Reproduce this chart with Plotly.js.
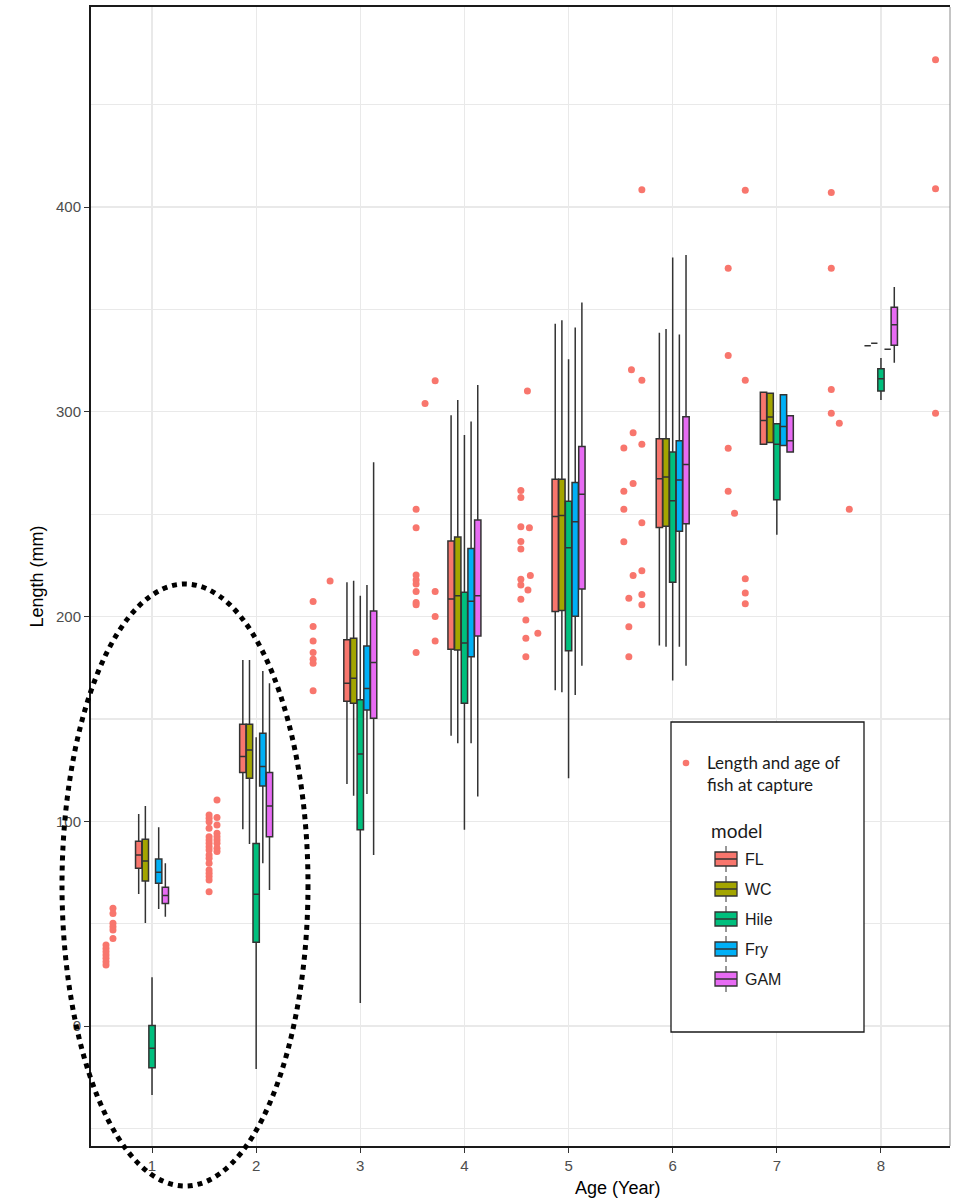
<!DOCTYPE html>
<html>
<head>
<meta charset="utf-8">
<script src="https://cdn.plot.ly/plotly-3.0.1.min.js"></script>
<style>html,body{margin:0;padding:0;background:#fff;}#chart{width:956px;height:1199px;}</style>
</head>
<body>
<div id="chart"></div>
<script>
// ---------- data ----------
const ages = [1, 2, 3, 4, 5, 6, 7, 8];
const tickLabels = ['1', '2', '3', '4', '5', '6', '7', '8'];
const models = ['FL', 'WC', 'Hile', 'Fry', 'GAM'];
const modelColors = ['#F8766D', '#A3A500', '#00BF7D', '#00B0F6', '#E76BF3'];

const flQ1  = [77.0, 123.8, 158.6, 184.0, 202.5, 243.5, 284.2, 332.3];
const flMed = [83.5, 131.6, 167.4, 208.6, 248.8, 267.3, 295.7, 332.3];
const flQ3  = [90.2, 147.4, 188.6, 236.9, 267.1, 286.8, 309.6, 332.3];
const flLo  = [64.5, 96.1, 118.2, 141.8, 164.0, 185.9, 284.2, 332.3];
const flHi  = [103.6, 178.8, 216.8, 298.3, 343.0, 338.6, 309.6, 332.3];

const wcQ1  = [70.8, 121.0, 157.6, 183.7, 203.0, 244.1, 285.0, 333.5];
const wcMed = [80.6, 134.8, 169.9, 210.1, 249.3, 268.1, 297.4, 333.5];
const wcQ3  = [91.2, 147.4, 189.4, 238.9, 267.1, 286.8, 309.1, 333.5];
const wcLo  = [50.3, 88.9, 112.5, 138.1, 163.0, 185.2, 285.0, 333.5];
const wcHi  = [107.5, 178.8, 217.5, 305.8, 344.7, 340.4, 309.1, 333.5];

const hileQ1  = [-20.4, 40.9, 95.8, 157.6, 183.3, 216.7, 257.0, 310.2];
const hileMed = [-10.9, 64.3, 132.9, 187.1, 233.6, 256.6, 284.2, 316.1];
const hileQ3  = [0.2, 89.2, 159.3, 211.9, 256.3, 280.4, 294.1, 321.0];
const hileLo  = [-33.7, -21.0, 11.2, 95.8, 121.0, 168.7, 239.9, 305.8];
const hileHi  = [23.8, 141.0, 210.1, 288.7, 325.7, 375.4, 294.1, 326.3];

const fryQ1  = [69.7, 117.2, 154.4, 180.4, 200.1, 241.6, 283.5, 330.6];
const fryMed = [75.1, 126.7, 164.8, 207.5, 246.3, 266.7, 292.8, 330.6];
const fryQ3  = [81.6, 143.0, 185.6, 233.2, 265.5, 285.9, 308.3, 330.6];
const fryLo  = [57.2, 79.5, 113.3, 138.1, 161.7, 185.2, 283.5, 330.6];
const fryHi  = [97.1, 173.4, 215.4, 295.2, 341.2, 337.8, 308.3, 330.6];

const gamQ1  = [59.9, 92.5, 150.3, 190.5, 213.5, 245.3, 280.3, 332.5];
const gamMed = [63.7, 107.5, 177.5, 210.1, 259.7, 274.3, 285.8, 342.5];
const gamQ3  = [67.8, 123.8, 202.7, 247.2, 283.0, 297.6, 298.1, 351.1];
const gamLo  = [53.4, 66.4, 83.5, 112.1, 176.0, 176.0, 280.3, 324.0];
const gamHi  = [79.5, 167.4, 275.4, 313.1, 353.4, 376.6, 298.1, 360.9];

// observed fish: age position (jittered, as plotted) and length (mm)
const fishAge = [
  0.558,0.558,0.558,0.558,0.558,0.558,0.558,
  0.625,0.625,0.625,0.625,0.625,0.625,
  1.548,1.548,1.548,1.548,1.548,1.548,1.548,1.548,1.548,1.548,1.548,1.548,1.548,1.548,1.548,1.548,1.548,
  1.624,1.624,1.624,1.624,1.624,1.624,1.624,1.624,1.624,
  2.547,2.547,2.547,2.547,2.547,2.547,2.547,
  2.710,
  3.536,3.536,3.536,3.536,3.536,3.536,3.536,3.536,3.536,
  3.622,
  3.719,3.719,3.719,3.719,
  4.605,4.542,4.542,4.542,4.624,4.542,4.542,4.542,4.542,4.633,4.610,4.542,4.590,4.590,4.705,4.590,
  5.704,5.604,5.704,5.620,5.531,5.704,5.620,5.531,5.531,5.704,5.531,5.620,5.704,5.579,5.704,5.704,5.579,5.579,
  6.533,6.697,6.533,6.697,6.533,6.533,6.594,6.697,6.697,6.697,
  7.523,7.523,7.523,7.523,7.600,7.696,
  8.524,8.524,8.524
];
const fishLength = [
  39.6,37.9,36.3,34.7,33.1,31.4,29.8,
  57.5,55.0,50.2,48.5,46.9,42.8,
  103.1,101.5,99.8,96.6,92.5,90.9,89.3,87.6,86.0,83.5,81.9,79.5,76.2,74.6,73.0,71.3,65.6,
  110.4,101.9,98.2,94.1,92.5,90.9,89.3,86.8,85.2,
  207.3,195.1,188.1,182.4,179.1,177.2,163.8,
  217.4,
  252.4,243.4,220.3,217.9,215.9,212.2,206.8,205.7,182.4,
  304.0,
  315.2,212.2,200.0,188.1,
  310.2,261.5,258.1,243.9,243.4,236.6,233.0,218.2,215.4,220.0,213.0,208.4,198.3,189.4,191.8,180.4,
  408.4,320.5,315.4,289.7,282.3,284.2,265.0,261.2,252.4,245.8,236.5,220.0,222.4,208.9,210.8,205.8,195.0,180.3,
  370.1,408.2,327.5,315.4,282.2,261.2,250.5,218.4,211.5,206.2,
  407.1,370.1,310.9,299.3,294.4,252.4,
  471.9,408.9,299.3
];

// ---------- layout geometry ----------
const W = 956, H = 1199;
const M = {l: 91, r: 6, t: 7, b: 53};
const PW = W - M.l - M.r, PH = H - M.t - M.b;
const px = x => (x - M.l) / PW;           // pixel -> paper x
const py = y => 1 - (y - M.t) / PH;       // pixel -> paper y

const stats = [
  [flQ1, flMed, flQ3, flLo, flHi],
  [wcQ1, wcMed, wcQ3, wcLo, wcHi],
  [hileQ1, hileMed, hileQ3, hileLo, hileHi],
  [fryQ1, fryMed, fryQ3, fryLo, fryHi],
  [gamQ1, gamMed, gamQ3, gamLo, gamHi]
];

const traces = models.map((m, i) => ({
  type: 'box',
  name: m,
  x: ages,
  q1: stats[i][0], median: stats[i][1], q3: stats[i][2],
  lowerfence: stats[i][3], upperfence: stats[i][4],
  boxpoints: false,
  fillcolor: modelColors[i],
  line: {color: '#333333', width: 1.5},
  whiskerwidth: 0,
  showlegend: false,
  hoverinfo: 'skip'
}));

traces.push({
  type: 'scatter',
  mode: 'markers',
  name: 'Length and age of fish at capture',
  x: fishAge,
  y: fishLength,
  marker: {color: '#F8766D', size: 7, line: {width: 0}},
  showlegend: false,
  hoverinfo: 'skip'
});

// ---------- legend (drawn manually to mimic ggplot guide) ----------
const shapes = [];
const annotations = [];

// right panel border (thin grey)
shapes.push({type: 'line', xref: 'paper', yref: 'paper', x0: 1, x1: 1, y0: 0, y1: 1,
  line: {color: '#8a8a8a', width: 1}, layer: 'above'});

// legend frame
shapes.push({type: 'rect', xref: 'paper', yref: 'paper',
  x0: px(671), x1: px(864), y0: py(1032), y1: py(722),
  fillcolor: '#ffffff', line: {color: '#1a1a1a', width: 1.3}, layer: 'above'});

// point key
shapes.push({type: 'circle', xref: 'paper', yref: 'paper',
  x0: px(682.7), x1: px(689.3), y0: py(766.3), y1: py(759.7),
  fillcolor: '#F8766D', line: {width: 0}, layer: 'above'});
annotations.push({xref: 'paper', yref: 'paper', x: px(705), y: py(773), xanchor: 'left', yanchor: 'middle',
  align: 'left', showarrow: false, text: 'Length and age of<br>fish at capture',
  font: {family: 'Lato, "Open Sans", sans-serif', size: 17, color: '#1a1a1a'}});
annotations.push({xref: 'paper', yref: 'paper', x: px(709), y: py(830), xanchor: 'left', yanchor: 'middle',
  showarrow: false, text: 'model',
  font: {family: 'Lato, "Open Sans", sans-serif', size: 19, color: '#1a1a1a'}});

models.forEach((m, i) => {
  const cy = 859 + 30 * i;
  shapes.push({type: 'line', xref: 'paper', yref: 'paper', x0: px(726), x1: px(726),
    y0: py(cy + 13), y1: py(cy - 13), line: {color: '#333333', width: 1}, layer: 'above'});
  shapes.push({type: 'rect', xref: 'paper', yref: 'paper', x0: px(715), x1: px(737),
    y0: py(cy + 7), y1: py(cy - 7), fillcolor: modelColors[i],
    line: {color: '#333333', width: 1.3}, layer: 'above'});
  shapes.push({type: 'line', xref: 'paper', yref: 'paper', x0: px(715), x1: px(737),
    y0: py(cy), y1: py(cy), line: {color: '#333333', width: 1.5}, layer: 'above'});
  annotations.push({xref: 'paper', yref: 'paper', x: px(743), y: py(cy), xanchor: 'left', yanchor: 'middle',
    showarrow: false, text: m,
    font: {family: '"Liberation Sans", Arial, sans-serif', size: 16, color: '#1a1a1a'}});
});

// dotted ellipse highlighting ages 1-2
shapes.push({type: 'circle', xref: 'paper', yref: 'paper',
  x0: px(62), x1: px(308), y0: py(1186), y1: py(584),
  line: {color: '#000000', width: 5, dash: 'dot'}, fillcolor: 'rgba(0,0,0,0)', layer: 'above'});

// x-axis title
annotations.push({xref: 'paper', yref: 'paper', x: px(617), y: py(1188), xanchor: 'center', yanchor: 'middle',
  showarrow: false, text: 'Age (Year)',
  font: {family: '"Liberation Sans", Arial, sans-serif', size: 18, color: '#000000'}});

const layout = {
  width: W, height: H,
  margin: M,
  paper_bgcolor: '#ffffff',
  plot_bgcolor: '#ffffff',
  boxmode: 'group',
  boxgap: 0.68,
  boxgroupgap: 0.05,
  showlegend: false,
  font: {family: '"Liberation Sans", Arial, sans-serif'},
  xaxis: {
    range: [0.414, 8.663],
    tickmode: 'array', tickvals: ages, ticktext: tickLabels,
    showgrid: true, gridcolor: '#E9E9E9', gridwidth: 1.2,
    zeroline: false,
    showline: true, linecolor: '#1a1a1a', linewidth: 2, mirror: true,
    ticks: 'outside', ticklen: 5, tickcolor: '#333333', tickwidth: 1,
    tickfont: {family: '"Liberation Sans", Arial, sans-serif', size: 15, color: '#4D4D4D'}
  },
  yaxis: {
    range: [-58.6, 497.7],
    tickmode: 'array', tickvals: [0, 100, 200, 300, 400], ticktext: ['0', '100', '200', '300', '400'],
    showgrid: true, gridcolor: '#E9E9E9', gridwidth: 1.2,
    minor: {tickmode: 'array', tickvals: [-50, 50, 150, 250, 350, 450], showgrid: true, gridcolor: '#E9E9E9', gridwidth: 1.2, ticks: ''},
    zeroline: false,
    showline: true, linecolor: '#1a1a1a', linewidth: 2, mirror: false,
    ticks: 'outside', ticklen: 5, tickcolor: '#333333', tickwidth: 1,
    tickfont: {family: '"Liberation Sans", Arial, sans-serif', size: 15, color: '#4D4D4D'},
    title: {text: 'Length (mm)', standoff: 8,
      font: {family: '"Liberation Sans", Arial, sans-serif', size: 18, color: '#000000'}},
    automargin: false
  },
  shapes: shapes,
  annotations: annotations
};

Plotly.newPlot('chart', traces, layout, {displayModeBar: false, staticPlot: true});
</script>
</body>
</html>
